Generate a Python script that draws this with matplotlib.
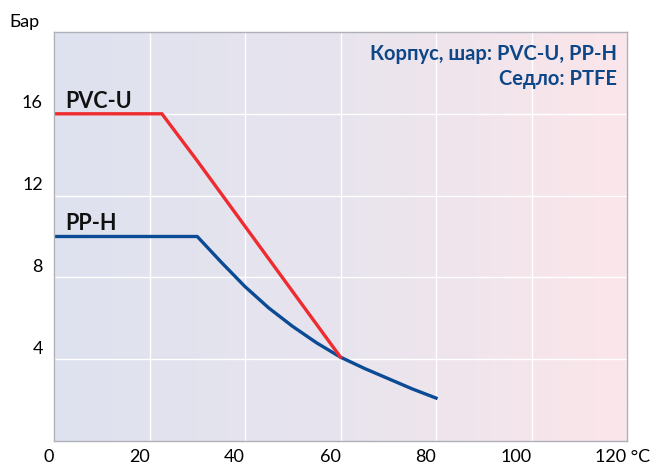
import numpy as np
import matplotlib.pyplot as plt
import matplotlib.transforms as mtransforms
from matplotlib.colors import LinearSegmentedColormap

# PVC-U: pressure (bar) vs temperature (°C)
pvc_t = [0, 22.6, 30, 40, 50, 55, 60]
pvc_p = [16, 16, 13.7, 10.5, 7.3, 5.7, 4.1]

# PP-H
pph_t = [0, 30, 35, 40, 45, 50, 55, 60, 65, 70, 75, 80]
pph_p = [10, 10, 8.75, 7.55, 6.5, 5.6, 4.8, 4.1, 3.55, 3.05, 2.55, 2.1]

x_ticks = [0, 20, 40, 60, 80, 100, 120]
x_labels = ["0", "20", "40", "60", "80", "100", "120 °C"]
y_ticks = [4, 8, 12, 16]

RED = "#ee2b2f"
BLUE = "#0b4a94"
TXT = "#0d4787"

plt.rcParams["font.family"] = ["Lato", "DejaVu Sans"]

fig = plt.figure(figsize=(6.6, 4.66), dpi=100)
ax = fig.add_axes([54 / 660, 1 - 441 / 466, 573 / 660, 409 / 466])
ax.set_xlim(0, 120)
ax.set_ylim(0, 20)

# background gradient blue -> pink
cmap = LinearSegmentedColormap.from_list("bg", ["#dee2ef", "#e8e4ee", "#fbe6ea"])
grad = np.linspace(0, 1, 256).reshape(1, -1)
ax.imshow(grad, cmap=cmap, extent=[0, 120, 0, 20], aspect="auto", zorder=0)

ax.grid(True, color="white", linewidth=1.0, zorder=1)
ax.set_axisbelow(False)
for s in ax.spines.values():
    s.set_color("#b0b0b8")
    s.set_linewidth(1.0)
    s.set_zorder(5)

ax.plot(pph_t, pph_p, color=BLUE, linewidth=2.4, solid_joinstyle="round", zorder=3)
ax.plot(pvc_t, pvc_p, color=RED, linewidth=2.4, solid_joinstyle="miter", zorder=4)

ax.set_xticks(x_ticks)
ax.set_xticklabels(x_labels, fontsize=13)
ax.set_yticks(y_ticks)
ax.set_yticklabels([str(v) for v in y_ticks], fontsize=13)
ax.tick_params(length=0, pad=8, colors="black")
ax.tick_params(axis="x", pad=6)

# x labels sit right-aligned on their gridline, the last one is centred a bit left
xlabs = ax.get_xticklabels()
for lab in xlabs[:-1]:
    lab.set_horizontalalignment("right")
xlabs[-1].set_transform(xlabs[-1].get_transform()
                        + mtransforms.ScaledTranslation(-4 / 100, 0, fig.dpi_scale_trans))
for lab in ax.get_yticklabels():
    lab.set_transform(lab.get_transform() + mtransforms.ScaledTranslation(0, 12 / 100, fig.dpi_scale_trans))

ax.text(2.4, 16.3, "PVC-U", fontsize=15.5, fontweight="bold", color="#111111", va="baseline", zorder=6)
ax.text(2.4, 10.3, "PP-H", fontsize=15.5, fontweight="bold", color="#111111", va="baseline", zorder=6)

ax.text(117.9, 18.9, "Корпус, шар: PVC-U, PP-H", fontsize=14.5, fontweight="bold",
        color=TXT, ha="right", va="center", zorder=6)
ax.text(117.9, 17.7, "Седло: PTFE", fontsize=14.5, fontweight="bold",
        color=TXT, ha="right", va="center", zorder=6)

fig.text(9 / 660, 1 - 22 / 466, "Бар", fontsize=13, ha="left", va="center")

fig.savefig("out.png", dpi=100)
